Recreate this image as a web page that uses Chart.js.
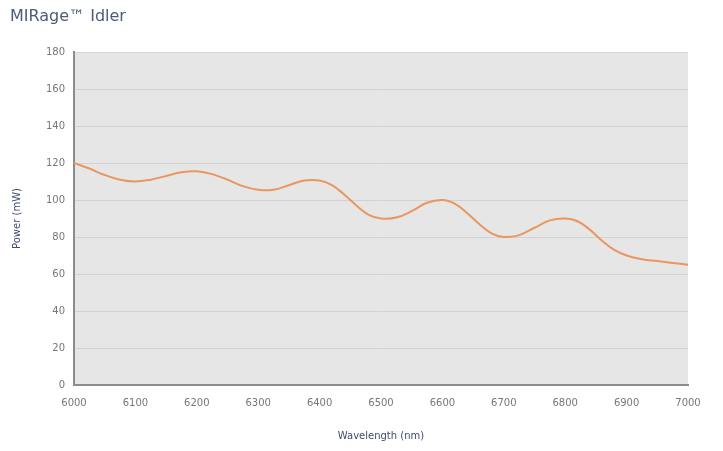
<!DOCTYPE html>
<html>
<head>
<meta charset="utf-8">
<script src="https://cdn.jsdelivr.net/npm/chart.js@4/dist/chart.umd.min.js"></script>
<style>
  html, body { margin: 0; padding: 0; background: #fff; }
  #wrap { width: 723px; height: 451px; position: relative; }
</style>
</head>
<body>
<div id="wrap"><canvas id="idlerChart"></canvas></div>
<script>
// MIRage idler output curve
const wavelengths = [6000, 6025, 6050, 6075, 6100, 6125, 6150, 6175, 6200, 6225, 6250, 6275, 6300, 6325,
    6350, 6375, 6400, 6420, 6440, 6460, 6480, 6500, 6525, 6550, 6575, 6600, 6620, 6640, 6660, 6680, 6700,
    6725, 6750, 6775, 6800, 6820, 6840, 6860, 6880, 6900, 6925, 6950, 6975, 7000];
const powerMw = [120, 117, 113.5, 111, 110, 111, 113, 115, 115.5, 114, 111, 107.5, 105.5, 105.5,
    108, 110.5, 110.5, 108, 103, 97, 92, 90, 90.5, 94, 98.5, 100, 98, 93, 87, 82, 80,
    81, 85, 89, 90, 88.5, 84, 78, 73, 70, 68, 67, 66, 65];
const xTicks = [6000, 6100, 6200, 6300, 6400, 6500, 6600, 6700, 6800, 6900, 7000];
const yTicks = [0, 20, 40, 60, 80, 100, 120, 140, 160, 180];

const chartTitle = 'MIRage™ Idler';
const xTitle = 'Wavelength (nm)';
const yTitle = 'Power (mW)';

// 플롯 배경 + 제목
const plotBackground = {
    id: 'plotBackground',
    beforeDraw(chart) {
        const {ctx, chartArea} = chart;
        ctx.save();
        ctx.fillStyle = '#e6e6e6';
        ctx.fillRect(chartArea.left, chartArea.top, chartArea.right - chartArea.left, chartArea.bottom - chartArea.top);
        ctx.fillStyle = '#4d5a78';
        ctx.font = '16px "DejaVu Sans"';
        ctx.textBaseline = 'middle';
        ctx.fillText(chartTitle, 10, 17);
        ctx.restore();
    }
};

new Chart(document.getElementById('idlerChart'), {
    type: 'line',
    data: {
        datasets: [{
            label: 'Idler',
            data: wavelengths.map((w, i) => ({x: w, y: powerMw[i]})),
            borderColor: '#e99660',
            borderWidth: 2,
            pointRadius: 0,
            tension: 0.4,
            fill: false
        }]
    },
    options: {
        responsive: true,
        maintainAspectRatio: false,
        animation: false,
        layout: {padding: {top: 52, right: 35, left: 0, bottom: 0}},
        plugins: {legend: {display: false}, tooltip: {enabled: false}},
        scales: {
            x: {
                type: 'linear',
                min: 6000,
                max: 7000,
                afterBuildTicks: scale => { scale.ticks = xTicks.map(v => ({value: v})); },
                afterFit: scale => { scale.height = 66; },
                grid: {display: false, drawTicks: false},
                border: {color: '#8c8c8c', width: 2},
                ticks: {color: '#777', font: {family: 'DejaVu Sans', size: 10}, padding: 12, maxRotation: 0,
                    callback: v => String(v)},
                title: {display: true, text: xTitle, color: '#3e4c6e', font: {family: 'DejaVu Sans', size: 10}, padding: {top: 4, bottom: 9}}
            },
            y: {
                min: 0,
                max: 180,
                afterBuildTicks: scale => { scale.ticks = yTicks.map(v => ({value: v})); },
                afterFit: scale => { scale.width = 74; },
                grid: {color: '#d2d2d2', drawTicks: false, lineWidth: 1},
                border: {color: '#8c8c8c', width: 2},
                ticks: {color: '#777', font: {family: 'DejaVu Sans', size: 10}, padding: 9,
                    callback: v => String(v)},
                title: {display: true, text: yTitle, color: '#3e4c6e', font: {family: 'DejaVu Sans', size: 10}, padding: {top: 11, bottom: 0}}
            }
        }
    },
    plugins: [plotBackground]
});
</script>
</body>
</html>
